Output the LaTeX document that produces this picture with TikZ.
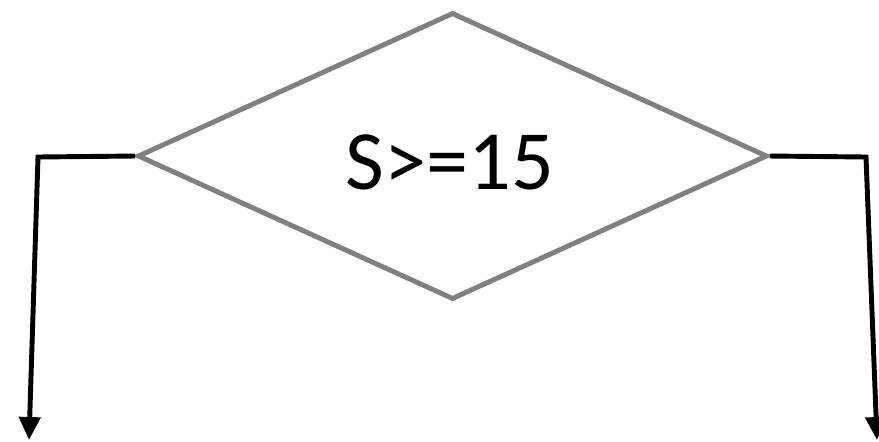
\documentclass[tikz,border=0pt]{standalone}
\usepackage{fontspec}
\setmainfont{Carlito}
\usetikzlibrary{positioning, shapes.geometric, arrows.meta}

\begin{document}
\begin{tikzpicture}[x=0.02cm, y=-0.02cm]
      \useasboundingbox (0, 0) rectangle (879, 441);
      \tikzset{flow/.style={line width=2.8pt, black, -{Triangle[width=0.42cm, length=0.46cm]}}}

      \node[draw=gray, line width=2.8pt, diamond, minimum width=12.6cm, minimum height=5.74cm,
            inner sep=0pt, font=\fontsize{48}{52}\selectfont] (cond) at (452.5, 156) {};
      \node[font=\fontsize{48}{52}\selectfont, inner sep=0pt] (label) at (450, 162) {S>=15};

      % Branches
      \coordinate (lturn) at (38, 157);
      \coordinate (lend) at (29, 440);
      \coordinate (rturn) at (866, 157);
      \coordinate (rend) at (877, 440);

      \draw[flow] (cond.west) -- (lturn) -- (lend);
      \draw[flow] (cond.east) -- (rturn) -- (rend);
    \end{tikzpicture}
\end{document}
